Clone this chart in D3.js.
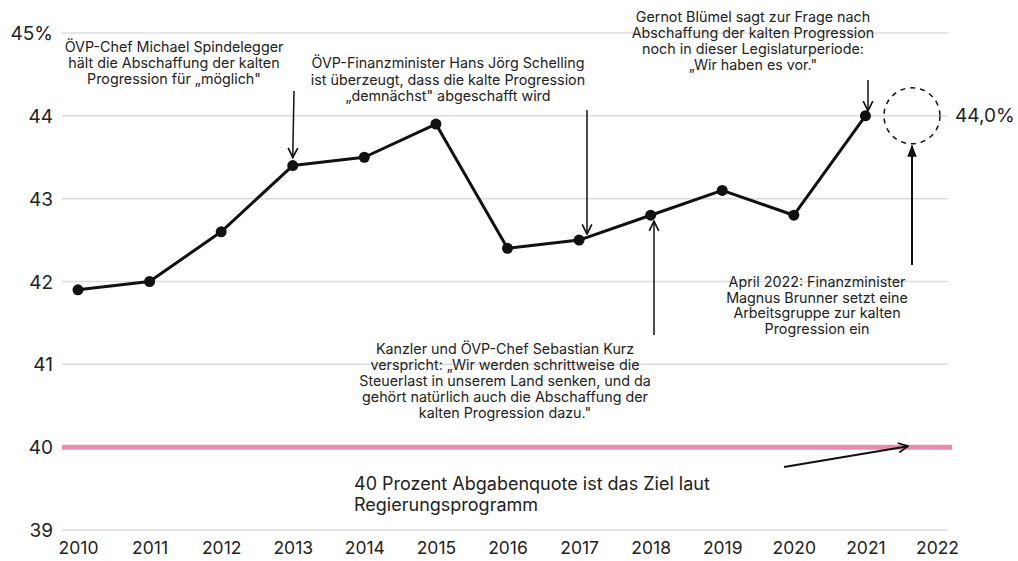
<!DOCTYPE html>
<html>
<head>
<meta charset="utf-8">
<script src="https://cdn.jsdelivr.net/npm/d3@7"></script>
<style>
  body { margin: 0; background: #fff; }
  svg { display: block; }
  text { font-family: Inter, "Noto Sans", sans-serif; fill: #222; }
</style>
</head>
<body>
<svg id="chart" width="1018" height="561"></svg>
<script>
// data
const years = [2010, 2011, 2012, 2013, 2014, 2015, 2016, 2017, 2018, 2019, 2020, 2021];
const quote = [41.9, 42.0, 42.6, 43.4, 43.5, 43.9, 42.4, 42.5, 42.8, 43.1, 42.8, 44.0];
const yTicks = [39, 40, 41, 42, 43, 44, 45];
const xTicks = [2010, 2011, 2012, 2013, 2014, 2015, 2016, 2017, 2018, 2019, 2020, 2021, 2022];
const target = 40;
const forecastYear = 2021.65, forecastValue = 44.0, forecastLabel = "44,0%";

const noteSpindelegger = ["ÖVP-Chef Michael Spindelegger", "hält die Abschaffung der kalten", "Progression für „möglich\""];
const noteSchelling = ["ÖVP-Finanzminister Hans Jörg Schelling", "ist überzeugt, dass die kalte Progression", "„demnächst\" abgeschafft wird"];
const noteBluemel = ["Gernot Blümel sagt zur Frage nach", "Abschaffung der kalten Progression", "noch in dieser Legislaturperiode:", "„Wir haben es vor.\""];
const noteKurz = ["Kanzler und ÖVP-Chef Sebastian Kurz", "verspricht: „Wir werden schrittweise die", "Steuerlast in unserem Land senken, und da", "gehört natürlich auch die Abschaffung der", "kalten Progression dazu.\""];
const noteBrunner = ["April 2022: Finanzminister", "Magnus Brunner setzt eine", "Arbeitsgruppe zur kalten", "Progression ein"];
const noteTarget = ["40 Prozent Abgabenquote ist das Ziel laut", "Regierungsprogramm"];

const svg = d3.select("#chart");
const x = d3.scaleLinear().domain([2010, 2022]).range([78, 937]);
const y = d3.scaleLinear().domain([39, 45]).range([530, 33]);

// defs: arrowheads
const defs = svg.append("defs");
defs.append("marker").attr("id", "open").attr("viewBox", "0 0 10 10")
  .attr("refX", 9).attr("refY", 5).attr("markerWidth", 12).attr("markerHeight", 12)
  .attr("markerUnits", "userSpaceOnUse").attr("orient", "auto")
  .append("path").attr("d", "M1,1 L9,5 L1,9").attr("fill", "none")
  .attr("stroke", "#111").attr("stroke-width", 1.4);
defs.append("marker").attr("id", "filled").attr("viewBox", "0 0 10 10")
  .attr("refX", 9).attr("refY", 5).attr("markerWidth", 12).attr("markerHeight", 12)
  .attr("markerUnits", "userSpaceOnUse").attr("orient", "auto")
  .append("path").attr("d", "M0,1 L10,5 L0,9 Z").attr("fill", "#111");

// grid
const yAxis = d3.axisLeft(y).tickValues(yTicks).tickSize(0)
  .tickFormat(d => d === 45 ? "45%" : d);
const gy = svg.append("g").attr("transform", "translate(62,0)").call(yAxis);
gy.select(".domain").remove();
gy.selectAll("text").attr("x", -9).attr("dy", "0.35em")
  .style("font-size", "19px").style("font-family", "Inter, sans-serif").attr("fill", "#222");
svg.append("g").selectAll("line").data(yTicks.filter(d => d !== target)).join("line")
  .attr("x1", 62).attr("x2", 948).attr("y1", d => y(d)).attr("y2", d => y(d))
  .attr("stroke", "#dcdcdc").attr("stroke-width", 1.5);

// target line
svg.append("line").attr("x1", 62).attr("x2", 952)
  .attr("y1", y(target)).attr("y2", y(target))
  .attr("stroke", "#e98ab0").attr("stroke-width", 5);

// x axis labels
const xAxis = d3.axisBottom(x).tickValues(xTicks).tickSize(0).tickFormat(d3.format("d"));
const gx = svg.append("g").attr("transform", "translate(0,540)").call(xAxis);
gx.select(".domain").remove();
gx.selectAll("text").attr("dy", "0.6em")
  .style("font-size", "17.5px").style("font-family", "Inter, sans-serif").attr("fill", "#222");

// series
const pts = years.map((yr, i) => [yr, quote[i]]);
svg.append("path").datum(pts)
  .attr("d", d3.line().x(d => x(d[0])).y(d => y(d[1])))
  .attr("fill", "none").attr("stroke", "#111").attr("stroke-width", 3)
  .attr("stroke-linejoin", "round");
svg.append("g").selectAll("circle").data(pts).join("circle")
  .attr("cx", d => x(d[0])).attr("cy", d => y(d[1])).attr("r", 5.5).attr("fill", "#111");

// forecast circle
svg.append("circle").attr("cx", x(forecastYear)).attr("cy", y(forecastValue)).attr("r", 28)
  .attr("fill", "none").attr("stroke", "#111").attr("stroke-width", 1.5)
  .attr("stroke-dasharray", "5,5");
svg.append("text").attr("x", 955).attr("y", y(forecastValue)).attr("dy", "0.35em")
  .style("font-size", "19px").text(forecastLabel);

// annotations
function note(lines, cx, y0, lh, anchor = "middle", size = 14.3) {
  const t = svg.append("text").attr("text-anchor", anchor).style("font-size", size + "px");
  lines.forEach((l, i) => t.append("tspan").attr("x", cx).attr("y", y0 + i * lh).text(l));
}
function arrow(x1, y1, x2, y2, m = "open", w = 1.5) {
  svg.append("line").attr("x1", x1).attr("y1", y1).attr("x2", x2).attr("y2", y2)
    .attr("stroke", "#111").attr("stroke-width", w).attr("marker-end", `url(#${m})`);
}

note(noteSpindelegger, 174, 52, 16);
arrow(294, 91, x(2013), y(43.4) - 8);

note(noteSchelling, 448, 68, 16.5);
arrow(587, 110, 587, y(42.5) - 6);

note(noteBluemel, 753, 22, 16);
arrow(868, 80, 868, y(44.0) - 5);

note(noteKurz, 505, 354, 16);
arrow(654, 335, 654, y(42.8) + 6);

note(noteBrunner, 817, 287, 15.5);
arrow(912, 265, 912, y(forecastValue) + 30, "filled", 2);

note(noteTarget, 354, 490, 21, "start", 18);
arrow(784, 467, 908, y(target) - 1, "open", 2);
</script>
</body>
</html>
